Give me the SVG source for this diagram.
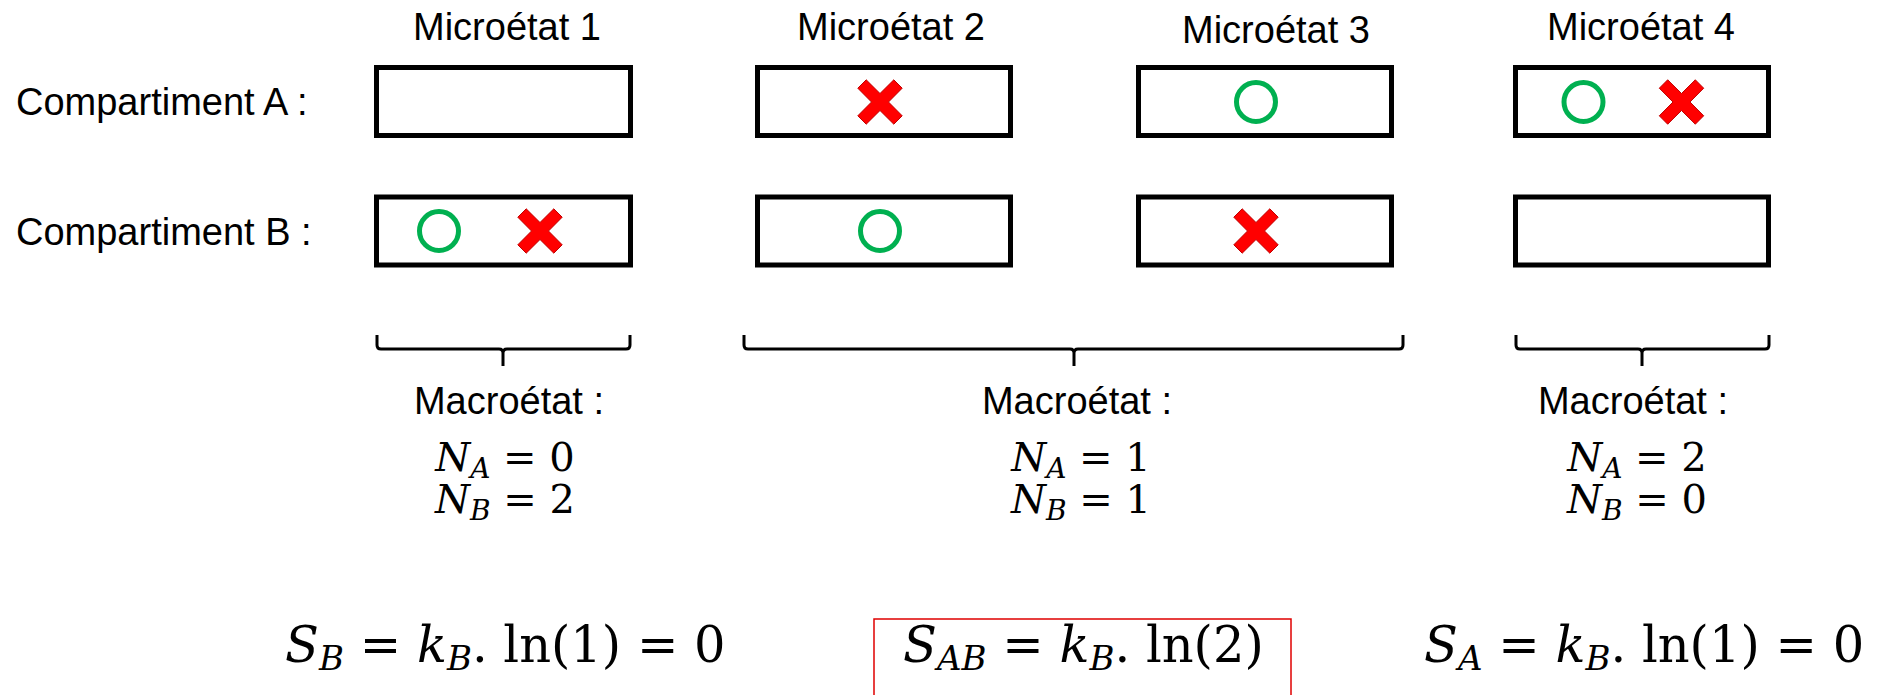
<svg xmlns="http://www.w3.org/2000/svg" width="1879" height="695" viewBox="0 0 1879 695">
  <style>
    .lbl { font-family: "Liberation Sans", Arial, sans-serif; font-size: 38px; fill: #000; }
    .mid { text-anchor: middle; }
    .box { fill: #fff; stroke: #000; stroke-width: 5; }
    .ring { fill: none; stroke: #00B050; stroke-width: 5; }
    .cross { fill: #FF0000; stroke: #C00000; stroke-width: 1; }
    .brace { fill: none; stroke: #000; stroke-width: 3; stroke-linejoin: round; }
    .math { font-family: "DejaVu Serif", "Liberation Serif", serif; fill: #000; }
    .n { font-size: 40px; }
    .s { font-size: 49.5px; }
    .it { font-style: italic; }
    .sub40 { font-size: 28px; }
    .sub52 { font-size: 34px; }
    .frame { fill: none; stroke: #E00000; stroke-width: 1.5; }
  </style>
  <defs>
    <circle id="ring" r="19.5" class="ring"/>
    <polygon id="cross" class="cross" points="0,-8.5 13.8,-22.2 22.2,-13.8 8.5,0 22.2,13.8 13.8,22.2 0,8.5 -13.8,22.2 -22.2,13.8 -8.5,0 -22.2,-13.8 -13.8,-22.2"/>
  </defs>

  <!-- row labels -->
  <g id="row-labels">
    <text class="lbl" x="16" y="115">Compartiment A :</text>
    <text class="lbl" x="16" y="245">Compartiment B :</text>
  </g>

  <!-- microstate 1 -->
  <g id="micro1">
    <text class="lbl mid" x="507" y="40">Microétat 1</text>
    <rect class="box" x="376.5" y="67.5" width="254" height="68"/>
    <rect class="box" x="376.5" y="197" width="254" height="68"/>
    <use href="#ring" x="439" y="231"/>
    <use href="#cross" x="540" y="231"/>
  </g>

  <!-- microstate 2 -->
  <g id="micro2">
    <text class="lbl mid" x="891" y="40">Microétat 2</text>
    <rect class="box" x="757.5" y="67.5" width="253" height="68"/>
    <rect class="box" x="757.5" y="197" width="253" height="68"/>
    <use href="#cross" x="880" y="102"/>
    <use href="#ring" x="880" y="231"/>
  </g>

  <!-- microstate 3 -->
  <g id="micro3">
    <text class="lbl mid" x="1276" y="43">Microétat 3</text>
    <rect class="box" x="1138.5" y="67.5" width="253" height="68"/>
    <rect class="box" x="1138.5" y="197" width="253" height="68"/>
    <use href="#ring" x="1256" y="102"/>
    <use href="#cross" x="1256" y="231"/>
  </g>

  <!-- microstate 4 -->
  <g id="micro4">
    <text class="lbl mid" x="1641" y="40">Microétat 4</text>
    <rect class="box" x="1515.5" y="67.5" width="253" height="68"/>
    <rect class="box" x="1515.5" y="197" width="253" height="68"/>
    <use href="#ring" x="1583.5" y="102"/>
    <use href="#cross" x="1681.5" y="102"/>
  </g>

  <!-- braces grouping microstates into macrostates -->
  <g id="braces">
    <path class="brace" d="M377,335 V345 Q377,349 381,349 H499 Q503,349 503,353 V366 M503,353 Q503,349 507,349 H626 Q630,349 630,345 V335"/>
    <path class="brace" d="M744,335 V345 Q744,349 748,349 H1070 Q1074,349 1074,353 V366 M1074,353 Q1074,349 1078,349 H1399 Q1403,349 1403,345 V335"/>
    <path class="brace" d="M1516,335 V345 Q1516,349 1520,349 H1638 Q1642,349 1642,353 V366 M1642,353 Q1642,349 1646,349 H1765 Q1769,349 1769,345 V335"/>
  </g>

  <!-- macrostate 1 -->
  <g id="macro1">
    <text class="lbl mid" x="509" y="414">Macroétat :</text>
    <text class="math n mid" x="505" y="471"><tspan class="it">N</tspan><tspan class="it sub40" dy="7">A</tspan><tspan dy="-7"> = 0</tspan></text>
    <text class="math n mid" x="505" y="513"><tspan class="it">N</tspan><tspan class="it sub40" dy="7">B</tspan><tspan dy="-7"> = 2</tspan></text>
  </g>

  <!-- macrostate 2 -->
  <g id="macro2">
    <text class="lbl mid" x="1077" y="414">Macroétat :</text>
    <text class="math n mid" x="1081" y="471"><tspan class="it">N</tspan><tspan class="it sub40" dy="7">A</tspan><tspan dy="-7"> = 1</tspan></text>
    <text class="math n mid" x="1081" y="513"><tspan class="it">N</tspan><tspan class="it sub40" dy="7">B</tspan><tspan dy="-7"> = 1</tspan></text>
  </g>

  <!-- macrostate 3 -->
  <g id="macro3">
    <text class="lbl mid" x="1633" y="414">Macroétat :</text>
    <text class="math n mid" x="1637" y="471"><tspan class="it">N</tspan><tspan class="it sub40" dy="7">A</tspan><tspan dy="-7"> = 2</tspan></text>
    <text class="math n mid" x="1637" y="513"><tspan class="it">N</tspan><tspan class="it sub40" dy="7">B</tspan><tspan dy="-7"> = 0</tspan></text>
  </g>

  <!-- entropy formulas -->
  <g id="entropy-b">
    <text class="math s" x="285" y="662"><tspan class="it">S</tspan><tspan class="it sub52" dy="8">B</tspan><tspan dy="-8"> = </tspan><tspan class="it">k</tspan><tspan class="it sub52" dy="8">B</tspan><tspan dy="-8">. ln(1) = 0</tspan></text>
  </g>
  <g id="entropy-ab">
    <rect class="frame" x="874" y="619" width="417" height="90"/>
    <text class="math s" x="903" y="662"><tspan class="it">S</tspan><tspan class="it sub52" dy="8">AB</tspan><tspan dy="-8"> = </tspan><tspan class="it">k</tspan><tspan class="it sub52" dy="8">B</tspan><tspan dy="-8">. ln(2)</tspan></text>
  </g>
  <g id="entropy-a">
    <text class="math s" x="1424" y="662"><tspan class="it">S</tspan><tspan class="it sub52" dy="8">A</tspan><tspan dy="-8"> = </tspan><tspan class="it">k</tspan><tspan class="it sub52" dy="8">B</tspan><tspan dy="-8">. ln(1) = 0</tspan></text>
  </g>
</svg>
